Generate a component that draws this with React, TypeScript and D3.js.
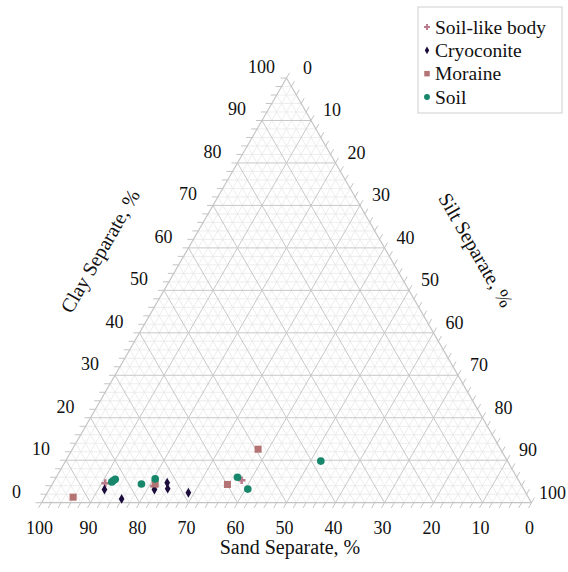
import React, { useEffect, useRef } from "react";
import * as d3 from "d3";

// [clay %, silt %] for each sample, sand = 100 - clay - silt
const soilLike = [[4.6, 10.7], [3.9, 21.0], [5.3, 38.2]];
const cryoconite = [[3.1, 11.3], [0.9, 15.9], [3.1, 21.5], [4.7, 23.3], [3.3, 24.1], [2.35, 28.8]];
const moraine = [[1.3, 5.8], [4.4, 21.0], [4.3, 35.8], [12.6, 37.9]];
const soil = [[4.9, 11.9], [5.2, 12.1], [5.5, 12.3], [4.4, 18.2], [5.6, 20.4], [6.0, 37.0], [3.2, 40.5], [9.8, 52.1]];

const seriesNames = ["Soil-like body", "Cryoconite", "Moraine", "Soil"];
const tickValues = [0, 10, 20, 30, 40, 50, 60, 70, 80, 90, 100];

const W = 568, H = 572;
const left = 41.5, right = 531.5, bottom = 502.7, top = 78;

export default function App() {
  const ref = useRef(null);

  useEffect(() => {
    const svg = d3.select(ref.current);
    svg.selectAll("*").remove();

    // clay -> vertical, (silt + clay/2) -> horizontal
    const yScale = d3.scaleLinear().domain([0, 100]).range([bottom, top]);
    const xScale = d3.scaleLinear().domain([0, 100]).range([left, right]);
    const pt = (clay, silt) => [xScale(silt + clay / 2), yScale(clay)];

    svg.append("rect").attr("width", W).attr("height", H).attr("fill", "#fff");

    const grid = svg.append("g");
    const line = (a, b, color, w) =>
      grid.append("line")
        .attr("x1", a[0]).attr("y1", a[1]).attr("x2", b[0]).attr("y2", b[1])
        .attr("stroke", color).attr("stroke-width", w);

    const minor = d3.range(2, 100, 2).filter(v => v % 10 !== 0);
    const major = d3.range(10, 100, 10);
    const drawSet = (vals, color, w) => {
      vals.forEach(v => {
        line(pt(v, 0), pt(v, 100 - v), color, w);          // clay const
        line(pt(0, v), pt(100 - v, v), color, w);          // silt const
        line(pt(0, 100 - v), pt(100 - v, 0), color, w);    // sand const
      });
    };
    drawSet(minor, "#e9e9e9", 0.8);
    drawSet(major, "#c8c8c8", 1);

    // outline
    line(pt(0, 0), pt(100, 0), "#c4c4c4", 1.2);
    line(pt(100, 0), pt(0, 100), "#c4c4c4", 1.2);
    line(pt(0, 0), pt(0, 100), "#c4c4c4", 1.2);

    // ticks every 2%
    const tl = 6;
    const c60 = 0.5, s60 = Math.sqrt(3) / 2;
    d3.range(0, 101, 2).forEach(v => {
      const a = pt(v, 0); // left edge, clay
      line(a, [a[0] - tl, a[1]], "#c4c4c4", 1);
      const b = pt(100 - v, v); // right edge, silt
      line(b, [b[0] + tl * c60, b[1] - tl * s60], "#c4c4c4", 1);
      const c = pt(0, 100 - v); // bottom, sand
      line(c, [c[0] - tl * c60, c[1] + tl * s60], "#c4c4c4", 1);
    });

    const font = "'Liberation Serif', 'Times New Roman', serif";
    const lab = svg.append("g").attr("font-family", font).attr("font-size", 18)
      .attr("fill", "#111").attr("text-anchor", "middle").attr("dominant-baseline", "central");

    tickValues.forEach(v => {
      const a = pt(v, 0);
      lab.append("text").attr("x", a[0] - 25).attr("y", a[1] - 11).text(v);
      const b = pt(100 - v, v);
      lab.append("text").attr("x", b[0] + 21).attr("y", b[1] - 10).text(v);
      const c = pt(0, 100 - v);
      lab.append("text").attr("x", c[0] - 2).attr("y", c[1] + 25).text(v);
    });

    const title = svg.append("g").attr("font-family", font).attr("font-size", 20)
      .attr("fill", "#111").attr("text-anchor", "middle").attr("dominant-baseline", "central");
    title.append("text").attr("x", 290).attr("y", 547).text("Sand Separate, %");
    title.append("text").attr("transform", "translate(100,251) rotate(-60)").text("Clay Separate, %");
    title.append("text").attr("transform", "translate(476,250) rotate(60)").text("Silt Separate, %");

    // markers
    const styles = [
      { data: soilLike, type: d3.symbolCross, size: 32, color: "#b97a8c" },
      { data: cryoconite, type: d3.symbolDiamond, size: 28, color: "#1c0c3c" },
      { data: moraine, type: d3.symbolSquare, size: 50, color: "#b57474" },
      { data: soil, type: d3.symbolCircle, size: 46, color: "#16876a" },
    ];
    const marks = svg.append("g");
    styles.forEach(s => {
      const sym = d3.symbol().type(s.type).size(s.size);
      marks.selectAll(null).data(s.data).join("path")
        .attr("d", sym)
        .attr("transform", d => { const p = pt(d[0], d[1]); return `translate(${p[0]},${p[1]})`; })
        .attr("fill", s.color);
    });

    // legend
    const lg = svg.append("g");
    lg.append("rect").attr("x", 418).attr("y", 7).attr("width", 144).attr("height", 106)
      .attr("fill", "#fff").attr("stroke", "#cfcfcf").attr("stroke-width", 1);
    const ly = d3.scalePoint().domain(seriesNames).range([27, 97]);
    seriesNames.forEach((name, i) => {
      const s = styles[i];
      lg.append("path").attr("d", d3.symbol().type(s.type).size(s.size * 0.6))
        .attr("transform", `translate(427,${ly(name)})`).attr("fill", s.color);
      lg.append("text").attr("x", 435).attr("y", ly(name)).attr("dominant-baseline", "central")
        .attr("font-family", font).attr("font-size", 19.5).attr("fill", "#111").text(name);
    });
  }, []);

  return (
    <svg ref={ref} width={W} height={H} style={{ position: "absolute", left: 0, top: 0 }} />
  );
}
